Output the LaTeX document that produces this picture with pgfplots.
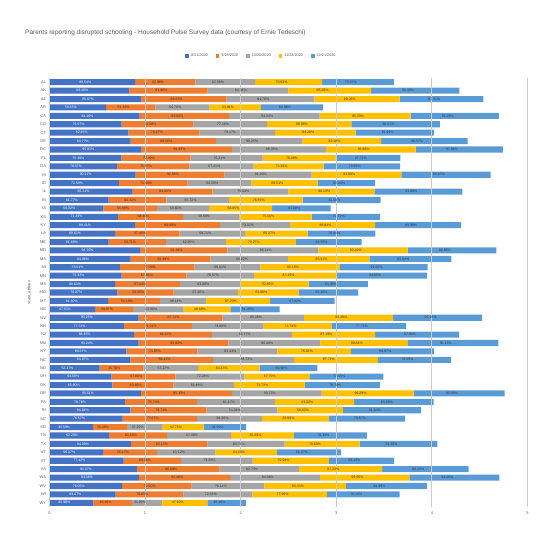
\documentclass[border=0pt]{standalone}
\usepackage{pgfplots}
\pgfplotsset{compat=1.18}
\usepackage{pgfplotstable}
\usepackage{fontspec}
\setmainfont{Liberation Sans}
\definecolor{cA}{HTML}{4472C4}
\definecolor{cB}{HTML}{ED7D31}
\definecolor{cC}{HTML}{A5A5A5}
\definecolor{cD}{HTML}{FFC000}
\definecolor{cE}{HTML}{5B9BD5}
\definecolor{txt}{HTML}{595959}
\definecolor{gridc}{HTML}{CCCCCC}
\pgfplotstableread{
idx a b c d e
0 89.54 62.98 62.56 70.03 75.07
1 83.46 81.96 84.34 86.69 92.30
2 95.67 89.53 91.78 89.26 87.51
3 59.33 51.33 56.70 53.81 64.96
4 94.16 93.84 94.54 95.30 92.28
5 75.57 74.88 77.16 88.06 92.61
6 82.45 74.37 79.17 84.28 81.91
7 84.77 89.56 90.25 82.18 90.57
8 95.91 94.93 98.33 93.86 91.08
9 75.19 72.49 75.21 76.49 67.72
10 70.37 75.87 67.21 73.38 79.93
11 90.11 92.95 91.00 93.89 93.47
12 72.59 71.89 66.58 69.51 60.04
13 86.31 84.44 79.02 90.13 91.99
14 61.77 60.41 65.72 76.81 81.58
15 56.32 55.99 54.60 66.05 61.08
16 71.49 68.40 58.69 75.56 71.71
17 89.41 88.98 73.32 88.94 89.99
18 68.61 67.40 68.71 65.27 70.84
19 61.89 59.71 62.95 73.27 68.56
20 94.70 91.39 95.14 93.42 92.66
21 84.96 83.39 80.92 85.41 85.62
22 73.51 77.98 69.01 83.15 91.92
23 75.32 67.95 70.57 87.15 94.05
24 68.61 67.84 63.80 70.86 61.80
25 70.87 58.95 67.10 63.90 62.10
26 61.30 54.19 48.14 67.20 67.32
27 47.61 39.97 52.80 48.80 51.43
28 93.25 87.72 85.16 93.30 93.10
29 77.73 71.31 74.60 71.79 77.71
30 88.46 81.26 83.77 87.19 87.89
31 93.24 93.82 96.40 90.84 95.13
32 80.37 74.58 83.44 76.81 86.87
33 84.67 86.41 84.73 87.71 76.55
34 52.37 45.78 57.27 64.43 60.48
35 64.68 67.00 72.28 67.79 77.45
36 65.80 63.89 63.46 73.73 78.78
37 95.61 95.33 93.72 96.29 95.05
38 78.78 75.74 81.17 83.02 83.19
39 84.64 79.71 74.01 68.63 81.64
40 76.57 77.67 68.26 69.99 79.57
41 45.59 35.48 37.29 42.75 44.59
42 62.29 60.65 67.08 65.69 76.33
43 84.99 80.15 80.71 78.60 81.30
44 56.17 56.17 61.12 64.49 66.97
45 77.42 60.09 74.88 79.94 68.10
46 91.37 86.69 82.73 87.22 90.43
47 93.38 95.48 94.08 93.55 94.20
48 76.05 72.50 76.11 85.43 84.99
49 69.07 70.89 72.31 77.95 76.10
50 45.98 40.16 31.90 47.10 40.16
}\data
\begin{document}
\begin{tikzpicture}
\useasboundingbox (0,0) rectangle (554bp,543bp);
\node[anchor=base west, text=txt, font=\fontsize{6.5}{8}\selectfont, inner sep=0pt] at (25bp,508bp)
  {Parents reporting disrupted schooling - Household Pulse Survey data (courtesy of Ernie Tedeschi)};
\begin{axis}[
  at={(49.5bp,36bp)}, anchor=south west,
  scale only axis, width=478bp, height=429bp,
  xbar stacked, bar width=0.72,
  xmin=0, xmax=5, ymin=-0.5, ymax=50.5,
  y dir=reverse,
  clip=false,
  xtick={0,1,2,3,4,5},
  ytick={0,...,50},
  yticklabels={AL,AK,AZ,AR,CA,CO,CT,DE,DC,FL,GA,HI,ID,IL,IN,IA,KS,KY,LA,ME,MD,MA,MI,MN,MS,MO,MT,NE,NV,NH,NJ,NM,NY,NC,ND,OH,OK,OR,PA,RI,SC,SD,TN,TX,UT,VT,VA,WA,WV,WI,WY},
  /pgf/number format/assume math mode=true,
  tick label style={font=\fontsize{4}{4.5}\selectfont, text=txt},
  xticklabel style={yshift=-1.5bp},
  major tick length=0pt,
  axis line style={draw=none},
  ylabel={state\_abbrev},
  ylabel style={font=\fontsize{4}{4.5}\selectfont, text=txt, at={(axis description cs:-0.042,0.5)}, anchor=center},
  point meta=explicit,
  nodes near coords={\pgfmathprintnumber[fixed,fixed zerofill,precision=2,assume math mode=true]{\pgfplotspointmeta}\%},
  every node near coord/.append style={anchor=east, font=\fontsize{3.5}{4}\selectfont, inner sep=1bp, text=black!80},
  legend style={at={(0.4435,1.051)}, anchor=center, draw=none, fill=none, legend columns=5,
    font=\fontsize{3.8}{4.5}\selectfont, text=txt, /tikz/every even column/.append style={column sep=6bp}},
  legend image code/.code={\fill[#1] (0bp,-1.8bp) rectangle (3.6bp,1.8bp);},
]
\pgfplotsinvokeforeach{0,1,2,3,4,5}{
  \draw[draw=gridc, line width=1pt] (axis cs:#1,-0.5) -- (axis cs:#1,50.5);
}
\addplot[fill=cA, draw=none, every node near coord/.append style={text=white}] table[x expr=\thisrow{a}/100, y=idx, meta=a]{\data};
\addplot[fill=cB, draw=none] table[x expr=\thisrow{b}/100, y=idx, meta=b]{\data};
\addplot[fill=cC, draw=none] table[x expr=\thisrow{c}/100, y=idx, meta=c]{\data};
\addplot[fill=cD, draw=none] table[x expr=\thisrow{d}/100, y=idx, meta=d]{\data};
\addplot[fill=cE, draw=none] table[x expr=\thisrow{e}/100, y=idx, meta=e]{\data};
\legend{8/31/2020,9/28/2020,10/26/2020,11/23/2020,12/21/2020}
\end{axis}
\end{tikzpicture}
\end{document}
